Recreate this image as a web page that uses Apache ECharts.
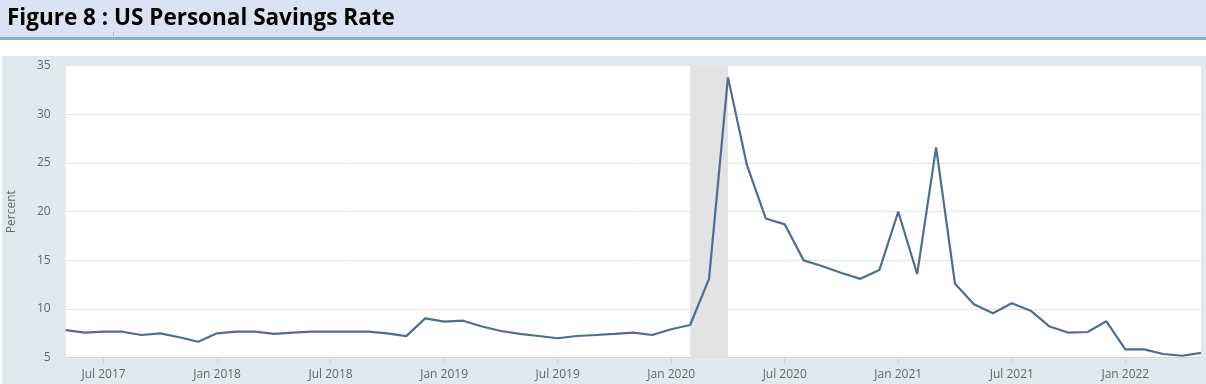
<!DOCTYPE html>
<html>
<head>
<meta charset="utf-8">
<script src="https://cdn.jsdelivr.net/npm/echarts@6/dist/echarts.min.js"></script>
<style>html,body{margin:0;padding:0;background:#fff;}#c{width:1206px;height:384px;}</style>
</head>
<body>
<div id="c"></div>
<script>
var months = [
 '2017-05','2017-06','2017-07','2017-08','2017-09','2017-10','2017-11','2017-12',
 '2018-01','2018-02','2018-03','2018-04','2018-05','2018-06','2018-07','2018-08','2018-09','2018-10','2018-11','2018-12',
 '2019-01','2019-02','2019-03','2019-04','2019-05','2019-06','2019-07','2019-08','2019-09','2019-10','2019-11','2019-12',
 '2020-01','2020-02','2020-03','2020-04','2020-05','2020-06','2020-07','2020-08','2020-09','2020-10','2020-11','2020-12',
 '2021-01','2021-02','2021-03','2021-04','2021-05','2021-06','2021-07','2021-08','2021-09','2021-10','2021-11','2021-12',
 '2022-01','2022-02','2022-03','2022-04','2022-05'
];
var savingsRate = [
 7.84,7.57,7.67,7.67,7.33,7.5,7.1,6.64,
 7.5,7.67,7.67,7.44,7.57,7.67,7.67,7.67,7.67,7.5,7.22,9.04,
 8.7,8.8,8.2,7.74,7.44,7.23,7.0,7.23,7.33,7.44,7.57,7.33,
 7.92,8.36,13.1,33.8,24.8,19.3,18.7,15.0,14.4,13.7,13.1,14.0,
 20.0,13.6,26.6,12.6,10.5,9.56,10.6,9.83,8.2,7.57,7.64,8.74,
 5.86,5.86,5.38,5.2,5.5
];
var recession = ['2020-02','2020-04'];
var monthNames = ['Jan','Feb','Mar','Apr','May','Jun','Jul','Aug','Sep','Oct','Nov','Dec'];
var titleText = 'Figure 8 : US Personal Savings Rate';
var yName = 'Percent';

function isTickMonth(i){ var m = months[i].slice(5); return m === '01' || m === '07'; }

var chart = echarts.init(document.getElementById('c'), null, {renderer:'canvas'});
chart.setOption({
  animation: false,
  backgroundColor: '#ffffff',
  graphic: [
    {type:'rect', shape:{x:0,y:0,width:1206,height:37}, style:{fill:'#dae3f3'}, z:-10},
    {type:'rect', shape:{x:0,y:37,width:1206,height:3}, style:{fill:'#8eaadb'}, z:-10},
    {type:'rect', shape:{x:2,y:56,width:1204,height:328}, style:{fill:'#e1e9f0'}, z:-10},
    {type:'line', shape:{x1:113.5,y1:32,x2:113.5,y2:36}, style:{stroke:'#b0b8c8',lineWidth:1}, z:-5}
  ],
  title: {
    text: titleText,
    left: 2, top: 2,
    textStyle: {fontFamily:'Open Sans', fontWeight:'bold', fontSize:22.5, color:'#000000'}
  },
  grid: {left:65.7, right:5, top:65.7, bottom:26.3, show:true, backgroundColor:'#ffffff', borderWidth:0, containLabel:false, outerBoundsMode:'none'},
  xAxis: {
    type:'category',
    data: months,
    boundaryGap:false,
    axisLine:{show:true, lineStyle:{color:'#ccd6eb', width:1}},
    axisTick:{show:true, interval:function(i){return isTickMonth(i);}, length:6, lineStyle:{color:'#ccd6eb'}},
    axisLabel:{
      interval:function(i){return isTickMonth(i);},
      formatter:function(v){ return monthNames[parseInt(v.slice(5),10)-1] + ' ' + v.slice(0,4); },
      color:'#666666', fontFamily:'Open Sans', fontSize:12, margin:11
    },
    splitLine:{show:false}
  },
  yAxis: {
    type:'value', min:5, max:35, interval:5,
    name: yName, nameLocation:'middle', nameRotate:90, nameGap:48,
    nameTextStyle:{color:'#666666', fontFamily:'Open Sans', fontSize:12},
    axisLine:{show:false}, axisTick:{show:false},
    axisLabel:{color:'#666666', fontFamily:'Open Sans', fontSize:12, margin:15},
    splitLine:{show:true, lineStyle:{color:'#e6e6e6', width:1}}
  },
  series: [{
    type:'line',
    data: savingsRate,
    symbol:'none',
    lineStyle:{color:'#4f6d94', width:2.2},
    markArea:{
      silent:true,
      itemStyle:{color:'#e3e3e3'},
      data:[[{xAxis:recession[0]},{xAxis:recession[1]}]]
    },
    z:3
  }]
});
</script>
</body>
</html>
